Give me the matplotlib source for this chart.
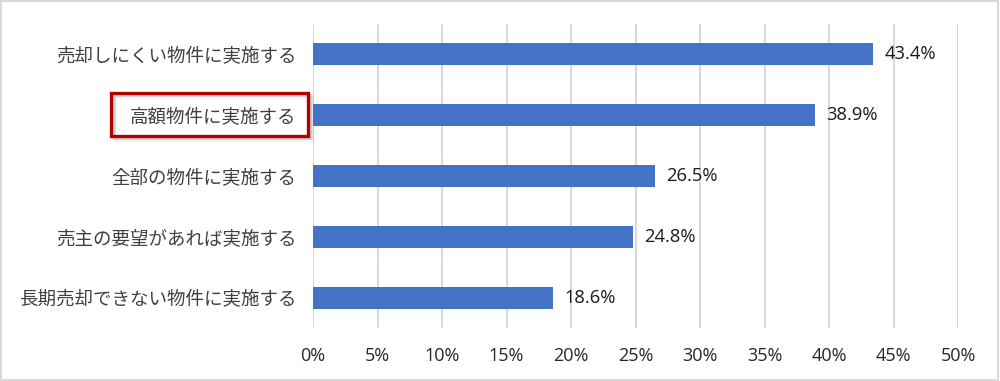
import matplotlib
matplotlib.use("Agg")
import matplotlib.pyplot as plt
from matplotlib.patches import Rectangle
from matplotlib.ticker import FuncFormatter, MultipleLocator

plt.rcParams['font.family'] = ['Noto Sans CJK JP', 'DejaVu Sans']

categories = ["売却しにくい物件に実施する", "高額物件に実施する", "全部の物件に実施する",
              "売主の要望があれば実施する", "長期売却できない物件に実施する"]
values = [43.4, 38.9, 26.5, 24.8, 18.6]
value_labels = ["43.4%", "38.9%", "26.5%", "24.8%", "18.6%"]

fig = plt.figure(figsize=(10, 3.81), dpi=100)
ax = fig.add_axes([0.313, 1 - 328/381, 0.645, 304/381])

ypos = list(range(len(categories)))
ax.barh(ypos, values, height=0.36, color="#4472C4", zorder=3)
ax.set_ylim(len(categories) - 0.5, -0.5)
ax.set_xlim(0, 50)
ax.xaxis.set_major_locator(MultipleLocator(5))
ax.xaxis.set_major_formatter(FuncFormatter(lambda v, p: f"{v:.0f}%"))
ax.grid(axis='x', color="#d9d9d9", linewidth=1.5, zorder=0)
ax.set_yticks(ypos)
ax.set_yticklabels(categories, fontsize=13.3, color="#404040")
ax.tick_params(axis='y', length=0, pad=12)
ax.tick_params(axis='x', length=0, pad=14, labelsize=13)
for lab in ax.get_xticklabels():
    lab.set_family(['Open Sans', 'DejaVu Sans'])
    lab.set_color("#262626")
for s in ax.spines.values():
    s.set_visible(False)

for y, v, lab in zip(ypos, values, value_labels):
    ax.text(v + 0.9, y, lab, va='center', ha='left', fontsize=13.2, color="#1a1a1a",
            family=['Open Sans', 'DejaVu Sans'])

# highlight box around second label (with soft shadow)
x0, y0, w, h = 111/1000, 1 - 136/381, 197/1000, 43/381
for i, a in enumerate([0.25, 0.18, 0.1]):
    fig.patches.append(Rectangle((x0 + (i + 1.5)/1000, y0 - (i + 1.5)/381), w, h,
                                 transform=fig.transFigure, facecolor="none",
                                 edgecolor="#888888", alpha=a, linewidth=2, zorder=4))
fig.patches.append(Rectangle((x0, y0), w, h, transform=fig.transFigure,
                             facecolor="none", edgecolor="#b00000", linewidth=2.4, zorder=5))

# outer border
fig.patches.append(Rectangle((0.001, 0.002), 0.997, 0.995, transform=fig.transFigure,
                             facecolor="none", edgecolor="#d9d9d9", linewidth=1.5))

fig.savefig("out.png", dpi=100)
